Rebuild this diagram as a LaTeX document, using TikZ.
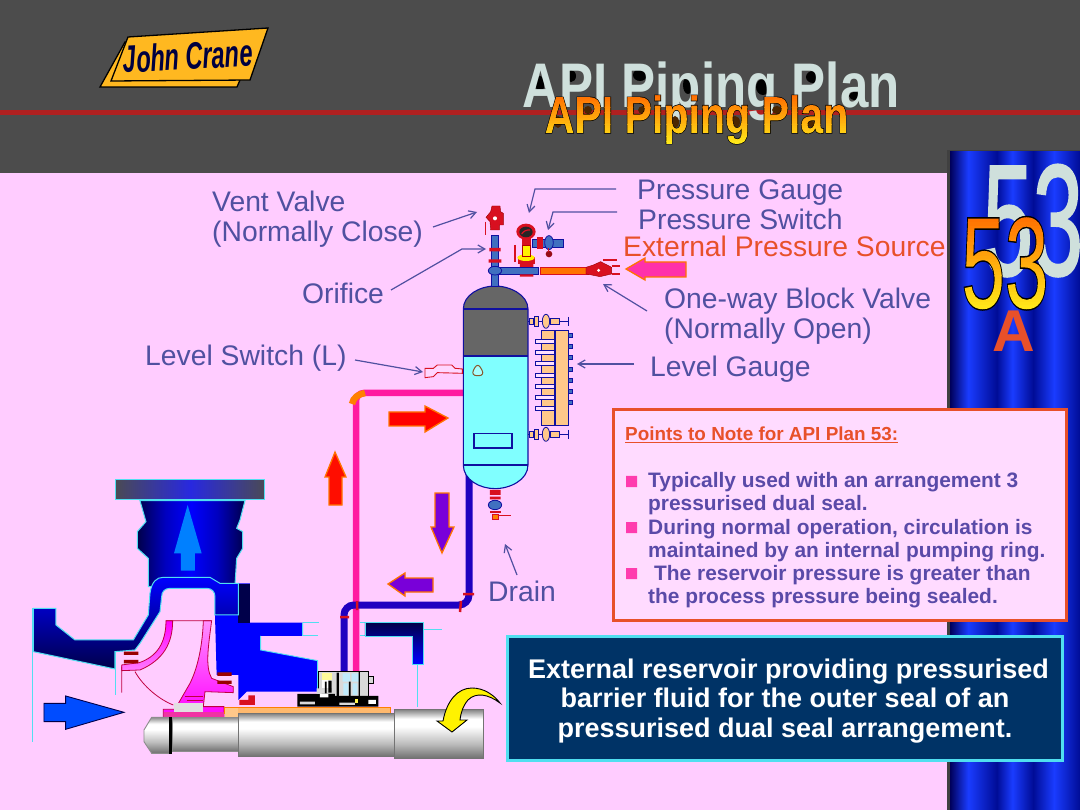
\documentclass[tikz,border=0pt]{standalone}
\usepackage{fontspec}
\setmainfont{Liberation Sans}
\usetikzlibrary{arrows.meta,calc}
\definecolor{bandgray}{HTML}{4C4C4C}
\definecolor{redline}{HTML}{B02020}
\definecolor{bgpink}{HTML}{FFCCFF}
\definecolor{lbl}{HTML}{5050A0}
\definecolor{hot}{HTML}{E8502A}
\definecolor{pale}{HTML}{CFE0DC}
\definecolor{ptxt}{HTML}{5A4AA8}
\definecolor{cyanl}{HTML}{50DFF0}
\definecolor{navy}{HTML}{003366}
\definecolor{vcyan}{HTML}{80FFFF}
\definecolor{vgray}{HTML}{666666}
\definecolor{dblue}{HTML}{1010A0}
\definecolor{pipeb}{HTML}{4070C0}
\definecolor{vred}{HTML}{D81020}
\definecolor{tan}{HTML}{FFC88A}
\definecolor{hotpink}{HTML}{FF1AA0}
\definecolor{purp}{HTML}{2000C0}
\definecolor{logoy}{HTML}{FFB820}
\definecolor{pa}{HTML}{00005A}
\definecolor{pb}{HTML}{1A3CFF}
\definecolor{pc}{HTML}{000C96}
\definecolor{ma}{HTML}{6E6E6E}
\definecolor{mb}{HTML}{BBBBBB}
\definecolor{mc}{HTML}{8A8A8A}
\definecolor{na}{HTML}{00004A}
\definecolor{nc}{HTML}{0000C0}
\definecolor{nb}{HTML}{0000FF}
\definecolor{fa}{HTML}{4A4A55}
\definecolor{fb}{HTML}{2828E0}
\pgfdeclarehorizontalshading{panelsh}{100bp}{color(0bp)=(pa);color(25bp)=(pa);color(32bp)=(pb);color(43bp)=(pc);color(49bp)=(pb);color(57bp)=(pc);color(65bp)=(pb);color(75bp)=(pc);color(100bp)=(pc)}
\pgfdeclareverticalshading{metal}{100bp}{color(0bp)=(ma);color(25bp)=(ma);color(40bp)=(mb);color(58bp)=(white);color(66bp)=(white);color(75bp)=(mc);color(100bp)=(mc)}
\pgfdeclarehorizontalshading{necksh}{100bp}{color(0bp)=(na);color(25bp)=(na);color(38bp)=(nc);color(50bp)=(nb);color(62bp)=(nc);color(75bp)=(na);color(100bp)=(na)}
\pgfdeclarehorizontalshading{flangesh}{100bp}{color(0bp)=(fa);color(25bp)=(fa);color(50bp)=(fb);color(75bp)=(fa);color(100bp)=(fa)}
% gradient-filled text: #1 text, #2 top (bp above baseline), #3 strip height (bp), #4 stroke setup
\newsavebox\gbox
\newcommand{\gradtext}[4]{%
 \sbox\gbox{#1}%
 \pgfmathsetmacro\wbp{\the\wd\gbox*0.99626+10}%
 \pgfmathsetmacro\hh{#3+.15}%
 \special{pdf:code q 6 Tr #4}%
 \usebox\gbox
 \special{pdf:code 0 Tr}%
 \kern-\wd\gbox
 \foreach \i in {0,...,29}{%
  \pgfmathsetmacro\yb{#2-#3*(\i+1)}%
  \pgfmathsetmacro\gg{.42+.5*\i/29}%
  \pgfmathsetmacro\bb{.1*\i/29}%
  \special{pdf:literal 1 \gg\space \bb\space rg -5 \yb\space \wbp\space \hh\space re f}%
 }%
 \kern\wd\gbox
 \special{pdf:code Q}}
\tikzset{
 lab/.style={anchor=base west,inner sep=0pt,text=lbl,font=\fontsize{28.3}{30}\selectfont},
 note/.style={draw=lbl,line width=1.2pt,-{Straight Barb[length=7pt,width=8pt]}},
 pts/.style={anchor=base west,inner sep=0pt,text=ptxt,font=\fontsize{20.9}{22}\selectfont\bfseries},
 blt/.style={fill=hotpink!85!white,draw=none},
 big/.style={anchor=base,inner sep=0pt,text=white,font=\fontsize{27}{28}\selectfont\bfseries},
 vout/.style={draw=dblue,line width=1.1pt},
 pipeline/.style={draw=dblue,fill=pipeb,line width=.8pt},
 redp/.style={fill=vred,draw=red!60!black,line width=.4pt},
 cy/.style={draw=cyanl,line width=1pt},
 arr/.style={draw=orange!90!red,line width=1.3pt},
 zv/.style={shift={(400,180)},x=.3333pt,y=-.3333pt},
 zp/.style={shift={(20,470)},x=.3333pt,y=-.3333pt},
}
\begin{document}
\begin{tikzpicture}[x=1pt,y=-1pt]
\useasboundingbox (0,0) rectangle (1080,810);
% backgrounds
\fill[bandgray] (0,0) rectangle (1080,173);
\fill[bgpink] (0,173) rectangle (948,810);
\fill[redline] (0,110) rectangle (1080,115);
\fill[black!75] (947,150) rectangle (1080,810);
\shade[shading=panelsh] (950,152) rectangle (1080,810);
% logo
\draw[fill=logoy,draw=black,line width=1.3pt] (125,42)--(100,87)--(237,87)--(240,80)--cycle;
\draw[fill=logoy,draw=black,line width=1.3pt] (128,37)--(268,28)--(250,80)--(111,81)--cycle;
\node[rotate=3,inner sep=0pt,text=black!75!blue] (logo) at (188,56) {\fontsize{38}{38}\selectfont\bfseries\itshape\scalebox{.62}[1]{John Crane}};
% title
\fill[black] (540,85) ellipse (4 and 9) (571,76) ellipse (5 and 6) (640,75) ellipse (7 and 6) (688,85) ellipse (5 and 9) (763,87) ellipse (7 and 8) (813,77) ellipse (7 and 6) (855,96) ellipse (6 and 4);
\node[anchor=base,inner sep=0pt,text=pale,font=\fontsize{63}{63}\selectfont\bfseries] (bigtitle) at (711,108) {\scalebox{.81}[1]{API Piping Plan}};
\fill[black!70!orange] (558,122) ellipse (4 and 6) (588,110) ellipse (4 and 4) (643,110) ellipse (5 and 4) (675,122) ellipse (4 and 6) (735,122) ellipse (5 and 6) (777,110) ellipse (5 and 4) (811,124) ellipse (5 and 3);
\node[anchor=base,inner sep=0pt,font=\fontsize{52}{52}\selectfont\bfseries] (smalltitle) at (696.5,133) {\scalebox{.79}[1]{\gradtext{API Piping Plan}{39}{1.7}{1.4 w .9 .42 0 RG}}};
% 53
\node[anchor=base,inner sep=0pt,text=pale,font=\fontsize{158}{158}\selectfont] (bignum) at (1033,275) {\scalebox{.57}[1]{\special{pdf:code q 2 Tr 2.5 w .81 .88 .86 RG}53\special{pdf:code Q}}};
\node[anchor=base,inner sep=0pt,font=\fontsize{130}{130}\selectfont] (num) at (1005,308) {\scalebox{.6}[1]{\gradtext{53}{95}{3.3}{3 w 1 .62 0 RG}}};
\node[anchor=base,inner sep=0pt,text=hot,font=\fontsize{59}{59}\selectfont\bfseries] (plana) at (1014,352) {A};
% pipes
\draw[hotpink,line width=6.5pt,rounded corners=8pt] (463,393)--(356,393)--(356,672);
\draw[orange,line width=6.5pt] (352,404) to[out=80,in=190] (365,393);
\draw[purp,line width=7pt,rounded corners=10pt] (469,470)--(469,605)--(344,605)--(344,672);
\draw[vred,line width=2.5pt] (461,601)--(460,612) (463,594)--(474,594) (357,601)--(357,610) (340,617)--(349,617);
% vessel
\begin{scope}[zv]
\fill[vcyan] (190,387) .. controls (190,345) and (240,318) .. (285,318) .. controls (330,318) and (384,345) .. (384,387) -- (384,855) .. controls (384,900) and (330,926) .. (285,926) .. controls (240,926) and (190,900) .. (190,855) -- cycle;
\fill[vgray] (190,387) .. controls (190,345) and (240,318) .. (285,318) .. controls (330,318) and (384,345) .. (384,387) -- (384,527) -- (190,527) -- cycle;
\draw[vout] (190,387) .. controls (190,345) and (240,318) .. (285,318) .. controls (330,318) and (384,345) .. (384,387) -- (384,855) .. controls (384,900) and (330,926) .. (285,926) .. controls (240,926) and (190,900) .. (190,855) -- cycle;
\draw[vout] (190,387)--(384,387) (190,855)--(384,855);
\draw[dblue,line width=2.2pt] (190,527)--(384,527);
\draw[vout] (222,761) rectangle (336,804);
\draw[draw=brown!70!black,line width=1pt,fill=vcyan!70!white,rounded corners=6pt] (233,547)--(255,587)--(212,587)--cycle;
% level switch
\draw[fill=bgpink!80!white,draw=vred,line width=.9pt] (75,565)--(100,565)--(112,555)--(155,555)--(165,565)--(187,567)--(187,580)--(112,578)--(100,590)--(75,593)--cycle;
% level gauge
\draw[fill=tan,draw=dblue,line width=.9pt] (423,450) rectangle (463,735);
\draw[fill=tan,draw=dblue,line width=.9pt] (465,450) rectangle (505,735);
\foreach \yy in {485,518,550,585,618,652,685} \draw[fill=bgpink!60!white,draw=dblue,line width=.9pt] (405,\yy-6) rectangle (462,\yy+6);
\foreach \yy in {467,500,533,567,600,634,667} \draw[fill=pipeb,draw=dblue,line width=.8pt] (505,\yy-6) rectangle (517,\yy+6);
\foreach \yy in {424,763}{
 \draw[dblue,line width=1pt] (385,\yy)--(505,\yy) (505,\yy-13)--(505,\yy+13);
 \draw[fill=tan,draw=dblue,line width=.8pt] (388,\yy-10) rectangle (400,\yy+10);
 \draw[fill=tan,draw=dblue,line width=.8pt] (403,\yy-14) rectangle (415,\yy+14);
 \draw[fill=tan,draw=dblue,line width=.8pt] (450,\yy-10) rectangle (478,\yy+10);
 \draw[fill=tan,draw=dblue,line width=.8pt] (438,\yy) ellipse (11 and 21);
}
% top piping
\draw[pipeline] (274,165) rectangle (296,318);
\draw[pipeline] (285,262) rectangle (415,282);
\draw[fill=orange!90!red,draw=vred,line width=.6pt] (420,262) rectangle (565,282);
\fill[vred] (268,204) rectangle (302,214) (266,238) rectangle (304,248) (360,252) rectangle (400,261) (360,283) rectangle (400,290);
\draw[pipeline] (285,272) ellipse (20 and 13);
% vent valve
\draw[redp] (272,95)--(276,78)--(300,78)--(302,95)--(310,100)--(310,135)--(298,135)--(298,150)--(272,150)--(270,125)--(258,112)--cycle;
\fill[white] (285,115) circle (6);
\draw[vred,line width=1.6pt] (256,125)--(256,165);
% one-way valve
\draw[redp] (558,262)--(580,255)--(602,245)--(635,262)--(635,282)--(600,290)--(575,285)--(558,282)--cycle;
\fill[white] (596,271) circle (5);
\draw[vred,line width=1.6pt] (610,240)--(650,240) (635,258)--(660,258) (635,282)--(660,282);
% gauge
\fill[vred] (366,175) rectangle (392,262);
\fill[vred] (355,232) rectangle (405,252);
\fill[yellow] (366,195) rectangle (392,228);
\fill[yellow] (378,233) ellipse (26 and 10);
\draw[red!70!black,line width=.5pt] (366,195) rectangle (392,228);
\draw[vred,line width=1.6pt] (345,195)--(345,245);
\fill[vred] (378,155) ellipse (29 and 24);
\fill[black!85] (378,156) ellipse (20 and 16);
\draw[vred,line width=1.2pt] (365,162) to[bend left=30] (390,150);
% switch
\draw[pipeline] (396,178) rectangle (490,202);
\fill[vred] (410,172) rectangle (430,208);
\draw[pipeline] (447,188) ellipse (13 and 21);
\fill[vred!70!black] (447,222) circle (10);
\draw[vred,line width=1pt] (447,205)--(447,215);
% drain fitting
\fill[vred] (270,930) rectangle (302,945) (270,950) rectangle (302,958);
\draw[pipeline] (285,975) ellipse (20 and 14);
\fill[vred] (270,992) rectangle (302,1000);
\draw[fill=orange,draw=vred,line width=.8pt] (277,1002) rectangle (294,1018);
\draw[vred,line width=1pt] (294,1008)--(332,1008);
\end{scope}
% flow arrows
\draw[arr,fill=red] (389,412)--(425,412)--(425,406)--(448,418)--(425,432)--(425,426)--(389,426)--cycle;
\draw[arr,fill=red!90!orange] (335,452)--(346,477)--(342,477)--(342,505)--(329,505)--(329,477)--(325,477)--cycle;
\draw[arr,fill=purp!60!magenta] (435,493)--(449,493)--(449,527)--(454,527)--(442,553)--(431,527)--(435,527)--cycle;
\draw[arr,fill=purp!60!magenta] (388,584)--(405,573)--(405,578)--(433,578)--(433,592)--(405,592)--(405,596)--cycle;
\draw[arr,fill=hotpink!90!white] (626,269)--(645,258)--(645,262)--(686,262)--(686,277)--(645,277)--(645,280)--cycle;
% pump
\begin{scope}[zp]
\shade[shading=necksh,draw=cyanl,line width=1pt] (360,92)--(675,92)--(660,150)--(650,175)--(668,185)--(668,235)--(650,265)--(645,345)--(385,350)--(385,265)--(352,235)--(352,185)--(378,155)--cycle;
\shade[shading=flangesh,draw=cyanl,line width=1pt] (288,30) rectangle (735,90);
\fill[nb] (655,340)--(690,340)--(690,458)--(848,458)--(848,498)--(722,498)--(722,540)--(893,572)--(893,665)--(680,665)--(655,690)--(655,615)--(590,615)--(585,435)--(655,435)--cycle;
\fill[na] (655,342) rectangle (690,458);
\draw[cyanl,line width=.9pt] (722,498)--(722,540)--(893,572)--(893,665) (848,458)--(848,498);
\shade[top color=nb,middle color=nb!85!black,bottom color=na,draw=cyanl,line width=1pt] (40,415)--(108,415)--(108,465)--(165,510)--(340,510)--(385,435)--(390,370) .. controls (395,335) and (410,322) .. (430,322)--(570,322)--(600,340)--(655,340)--(655,435)--(585,435)--(585,380) .. controls (585,365) and (575,355) .. (560,355)--(450,355) .. controls (435,355) and (425,365) .. (425,380)--(420,425)--(360,520)--(345,540)--(285,545)--(285,597)--(40,545)--cycle;
\draw[cy] (38,415)--(38,815) (288,545)--(288,675) (848,458)--(898,458) (848,498)--(893,498) (1020,458)--(1035,458) (1020,498)--(1035,498) (1210,480)--(1265,480) (1192,585)--(1192,712);
\shade[top color=na,bottom color=nb,draw=cyanl,line width=.8pt] (1035,458)--(1210,458)--(1210,582)--(1178,582)--(1178,498)--(1035,498)--cycle;
% impeller
\shade[top color=magenta!30!bgpink,bottom color=magenta,draw=purple,line width=.8pt] (550,452)--(575,452) .. controls (565,530) and (555,590) .. (575,625)--(640,650)--(640,668)--(555,665)--(550,710)--(612,710)--(612,745)--(430,745)--(430,718)--(465,718)--(510,640) .. controls (535,590) and (548,520) .. cycle;
\fill[black!12] (462,700) rectangle (550,725);
\shade[top color=magenta,bottom color=magenta!40!bgpink,draw=purple,line width=.8pt] (438,452)--(458,452) .. controls (458,520) and (430,570) .. (360,600)--(305,602)--(305,585)--(358,578) .. controls (410,560) and (438,520) .. cycle;
\draw[purple,line width=.8pt] (305,590)--(305,668) (345,605) .. controls (370,650) and (420,690) .. (460,705) (438,452)--(575,452);
\draw[purple,line width=.6pt] (495,680)--(548,680) (500,690)--(550,690);
\fill[red!60!black] (312,545) rectangle (355,555) (312,570) rectangle (355,580) (592,607) rectangle (635,618) (592,632) rectangle (635,642);
\fill[vred] (658,690) rectangle (705,705) (685,676) rectangle (705,690);
\draw[draw=na,fill=blue!70!cyan,line width=.9pt] (72,700)--(137,700)--(137,678)--(312,727)--(137,778)--(137,755)--(72,755)--cycle;
\fill[blue!50!cyan] (503,105)--(545,250)--(525,250)--(525,302)--(483,302)--(483,250)--(462,250)--cycle;
% shaft
\draw[fill=tan!80!orange,draw=orange,line width=.8pt] (612,712) rectangle (1110,730);
\fill[tan] (614,714) rectangle (655,748);
\fill[magenta!80!white] (432,725) rectangle (612,746);
\shade[shading=metal,draw=black!45,line width=.9pt] (372,780)--(395,742)--(450,742)--(450,850)--(395,850)--(372,815)--cycle;
\shade[shading=metal,draw=black!45,line width=.9pt] (456,742) rectangle (655,845);
\fill[black] (447,740) rectangle (456,852);
\shade[shading=metal,draw=black!55,line width=1pt] (657,732) rectangle (1125,860);
\shade[shading=metal,draw=black!55,line width=1pt] (1125,720) rectangle (1390,866);
% seal
\draw[fill=black!15,draw=black,line width=.8pt] (895,605) rectangle (1045,680);
\draw[fill=black!15,draw=black,line width=.6pt] (1045,620) rectangle (1060,640);
\fill[black] (832,672) rectangle (945,710) (945,678) rectangle (1075,710);
\fill[black!15] (840,695) rectangle (885,703) (958,698) rectangle (1005,705) (890,655) rectangle (905,672);
\fill[white] (1045,690) rectangle (1068,702) (900,672) rectangle (925,682);
\fill[yellow!40!white] (905,610) rectangle (935,630);
\fill[white] (905,630) rectangle (935,655);
\fill[cyan!25!white] (968,610) rectangle (990,635) (995,610) rectangle (1018,635) (970,640) rectangle (985,675) (998,640) rectangle (1012,675);
\fill[black] (925,632) rectangle (935,668) (950,608) rectangle (957,680) (915,635) rectangle (920,670) (987,635) rectangle (992,678) (1016,605) rectangle (1020,680);
\fill[yellow!70!white] (1005,688) rectangle (1015,698);
\end{scope}
% yellow curved arrow
\draw[fill=yellow,draw=black,line width=.9pt] (452,732)--(437,721)--(443,721) .. controls (447,700) and (458,688) .. (472,688) .. controls (484,688) and (494,695) .. (500,703) .. controls (488,694) and (476,692) .. (468,700) .. controls (463,706) and (461,712) .. (460,720)--(467,720)--cycle;
% labels
\node[lab] (pg) at (637,200) {Pressure Gauge};
\node[lab] (ps) at (638,230) {Pressure Switch};
\node[lab,text=hot] (ext) at (623,257) {External Pressure Source};
\node[lab] (vv) at (212,212) {Vent Valve};
\node[lab] (nc) at (212,242) {(Normally Close)};
\node[lab] (ori) at (302,304) {Orifice};
\node[lab] (ow) at (664,309) {One-way Block Valve};
\node[lab] (no) at (664,339) {(Normally Open)};
\node[lab] (ls) at (145,366) {Level Switch (L)};
\node[lab] (lg) at (650,377) {Level Gauge};
\node[lab] (dr) at (488,601) {Drain};
% annotation arrows
\coordinate (pgS) at (616,189); \coordinate (pgT) at (529,213);
\coordinate (psS) at (617,212); \coordinate (psT) at (548,230);
\coordinate (vvS) at (433,227); \coordinate (vvT) at (477,212);
\coordinate (oriS) at (391,290); \coordinate (oriT) at (486,249);
\coordinate (owS) at (647,311); \coordinate (owT) at (603,284);
\coordinate (lgS) at (634,364); \coordinate (lgT) at (577,364);
\coordinate (lsS) at (355,360); \coordinate (lsT) at (423,372);
\coordinate (drS) at (517,575); \coordinate (drT) at (505,544);
\draw[note] (pgS)--(535,189)--(pgT);
\draw[note] (psS)--(553,212)--(psT);
\draw[note] (vvS)--(vvT);
\draw[note] (oriS)--(462,249)--(oriT);
\draw[note] (owS)--(owT);
\draw[note] (lgS)--(lgT);
\draw[note] (lsS)--(lsT);
\draw[note] (drS)--(drT);
% points box
\node[draw=hot,line width=3pt,fill=bgpink!70!white,inner sep=0pt,outer sep=0pt,anchor=north west] (box) at (613,410) {\rule{0pt}{210pt}\rule{453pt}{0pt}};
\node[pts,text=hot,font=\fontsize{18.9}{22}\selectfont\bfseries] (ph) at (625,441) {\underline{Points to Note for API Plan 53:}};
\fill[blt] (626,476) rectangle (637,487) (626,522) rectangle (637,533) (626,568) rectangle (637,579);
\node[pts] (p1) at (648,488) {Typically used with an arrangement 3};
\node[pts] (p2) at (648,511) {pressurised dual seal.};
\node[pts] (p3) at (648,534) {During normal operation, circulation is};
\node[pts] (p4) at (648,557) {maintained by an internal pumping ring.};
\node[pts] (p5) at (654,580) {The reservoir pressure is greater than};
\node[pts] (p6) at (648,603) {the process pressure being sealed.};
% blue box
\node[draw=cyanl,line width=3pt,fill=navy,inner sep=0pt,outer sep=0pt,anchor=north west] (blue) at (507,636) {\rule{0pt}{124pt}\rule{555pt}{0pt}};
\node[big] (b1) at (788.5,678) {External reservoir providing pressurised};
\node[big] (b2) at (785,707) {barrier fluid for the outer seal of an};
\node[big] (b3) at (785,737) {pressurised dual seal arrangement.};
\end{tikzpicture}
\end{document}
